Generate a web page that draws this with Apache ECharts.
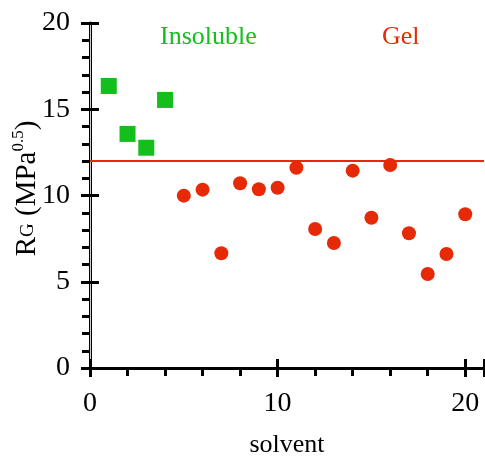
<!DOCTYPE html>
<html>
<head>
<meta charset="utf-8">
<script src="https://cdn.jsdelivr.net/npm/echarts@6/dist/echarts.min.js"></script>
<style>
  html, body { margin: 0; padding: 0; background: #fff; }
  #chart { width: 485px; height: 461px; }
</style>
</head>
<body>
<div id="chart"></div>
<script>
// insoluble solvents (green squares)
const insolubleX = [1, 2, 3, 4]
const insolubleY = [16.35, 13.57, 12.77, 15.54]
// gel solvents (red circles)
const gelX = [5, 6, 7, 8, 9, 10, 11, 12, 13, 14, 15, 16, 17, 18, 19, 20]
const gelY = [9.99, 10.34, 6.65, 10.71, 10.36, 10.45, 11.61, 8.06, 7.25, 11.44, 8.71, 11.77, 7.81, 5.45, 6.61, 8.91]
const threshold = 12

const green = '#14be1c'
const red = '#e62a08'
const font = 'Liberation Serif'

const myCharts = echarts.init(document.getElementById('chart'))

const xBase = { type: 'value', min: 0, max: 21, interval: 10, gridIndex: 0 }
const yBase = { type: 'value', min: 0, max: 20, interval: 5, gridIndex: 0 }

const option = {
    animation: false,
    grid: { left: 90, right: 1, top: 23, bottom: 93, containLabel: false, outerBoundsMode: 'none' },
    xAxis: [{
        ...xBase,
        position: 'bottom',
        name: 'solvent',
        nameLocation: 'middle',
        nameGap: 64,
        nameMoveOverlap: false,
        nameTextStyle: { fontFamily: font, fontSize: 26, color: '#000' },
        axisLine: { show: true, lineStyle: { color: '#000', width: 3 } },
        axisTick: { show: true, length: 9, lineStyle: { color: '#000', width: 3 } },
        minorTick: { show: true, splitNumber: 5, length: 8, lineStyle: { color: '#000', width: 3 } },
        axisLabel: { fontFamily: font, fontSize: 28, color: '#000', margin: 22 },
        splitLine: { show: false }
    }, {
        // inner half of the major ticks
        ...xBase,
        position: 'bottom',
        axisLine: { show: false },
        axisTick: { show: true, inside: true, length: 9, lineStyle: { color: '#000', width: 3 } },
        axisLabel: { show: false },
        splitLine: { show: false }
    }, {
        // top frame
        ...xBase,
        position: 'top',
        axisLine: { show: true, lineStyle: { color: '#000', width: 3 } },
        axisTick: { show: false },
        axisLabel: { show: false },
        splitLine: { show: false }
    }],
    yAxis: [{
        ...yBase,
        position: 'left',
        name: '{r|R}{sub|G}{r| (MPa}{sup|0.5}{r|)}',
        nameLocation: 'middle',
        nameGap: 46,
        nameRotate: 90,
        nameMoveOverlap: false,
        nameTextStyle: {
            color: '#000',
            padding: [0, 0, 0, 14],
            rich: {
                r: { fontFamily: font, fontSize: 29, color: '#000', lineHeight: 34, verticalAlign: 'middle' },
                sub: { fontFamily: font, fontSize: 19, color: '#000', lineHeight: 34, verticalAlign: 'bottom', padding: [0, 0, 6, 0] },
                sup: { fontFamily: font, fontSize: 17, color: '#000', lineHeight: 34, verticalAlign: 'top', padding: [0, 0, 0, 0] }
            }
        },
        axisLine: { show: true, lineStyle: { color: '#000', width: 3 } },
        axisTick: { show: true, length: 9, lineStyle: { color: '#000', width: 3 } },
        minorTick: { show: true, splitNumber: 5, length: 8, lineStyle: { color: '#000', width: 3 } },
        axisLabel: { fontFamily: font, fontSize: 28, color: '#000', margin: 20 },
        splitLine: { show: false }
    }, {
        ...yBase,
        position: 'left',
        axisLine: { show: false },
        axisTick: { show: true, inside: true, length: 9, lineStyle: { color: '#000', width: 3 } },
        axisLabel: { show: false },
        splitLine: { show: false }
    }, {
        // right frame
        ...yBase,
        position: 'right',
        axisLine: { show: true, lineStyle: { color: '#cccccc', width: 1 } },
        axisTick: { show: false },
        axisLabel: { show: false },
        splitLine: { show: false }
    }],
    graphic: [{
        type: 'text',
        left: 160,
        top: 24,
        style: { text: 'Insoluble', fill: green, font: '26px "Liberation Serif"' }
    }, {
        type: 'text',
        left: 382,
        top: 24,
        style: { text: 'Gel', fill: red, font: '26px "Liberation Serif"' }
    }],
    series: [{
        name: 'Insoluble',
        type: 'scatter',
        symbol: 'rect',
        symbolSize: 16,
        itemStyle: { color: green, opacity: 1 },
        data: insolubleX.map((x, i) => [x, insolubleY[i]]),
        z: 3
    }, {
        name: 'Gel',
        type: 'scatter',
        symbol: 'circle',
        symbolSize: 14,
        itemStyle: { color: red, opacity: 1 },
        data: gelX.map((x, i) => [x, gelY[i]]),
        markLine: {
            silent: true,
            symbol: 'none',
            label: { show: false },
            lineStyle: { color: red, width: 2, type: 'solid' },
            data: [{ yAxis: threshold }]
        },
        z: 3
    }]
}

myCharts.setOption(option)
</script>
</body>
</html>
